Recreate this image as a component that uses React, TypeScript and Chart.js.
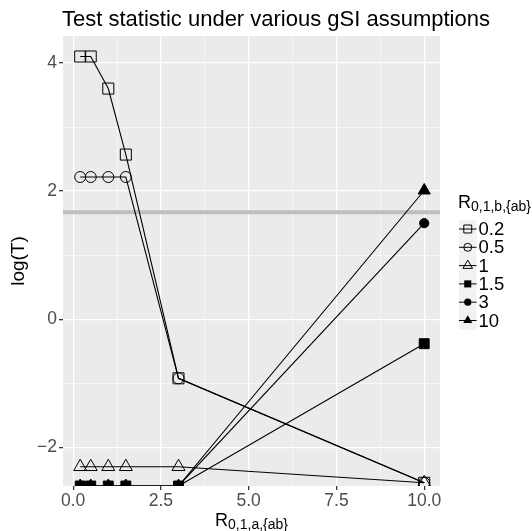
import React, { useEffect, useRef } from "react";
import { Chart, registerables } from "chart.js";

Chart.register(...registerables);

// ---- data ----
const xValues = [0.2, 0.5, 1, 1.5, 3, 10];
const seriesLabels = ["0.2", "0.5", "1", "1.5", "3", "10"];
const s02 = [4.1, 4.1, 3.6, 2.57, -0.92, -2.55];
const s05 = [2.22, 2.22, 2.22, 2.22, -0.92, -2.55];
const s1 = [-2.3, -2.3, -2.3, -2.3, -2.3, -2.55];
const s15 = [-2.6, -2.6, -2.6, -2.6, -2.6, -0.38];
const s3 = [-2.6, -2.6, -2.6, -2.6, -2.6, 1.5];
const s10 = [-2.6, -2.6, -2.6, -2.6, -2.6, 2.01];
const threshold = 1.67;
const xMajor = [0, 2.5, 5, 7.5, 10];
const xMinor = [1.25, 3.75, 6.25, 8.75];
const yMajor = [-2, 0, 2, 4];
const yMinor = [-1, 1, 3];
const xLimits = [-0.29, 10.45];
const yLimits = [-2.6, 4.42];

const FONT = "'Liberation Sans', Arial, Helvetica, sans-serif";

type Shape = "rect" | "circle" | "triangle";
const styles: { shape: Shape; filled: boolean; r: number; lr: number }[] = [
  { shape: "rect", filled: false, r: 7.8, lr: 5.6 },
  { shape: "circle", filled: false, r: 5.5, lr: 4 },
  { shape: "triangle", filled: false, r: 7.5, lr: 5.5 },
  { shape: "rect", filled: true, r: 7, lr: 5 },
  { shape: "circle", filled: true, r: 4.6, lr: 3.6 },
  { shape: "triangle", filled: true, r: 7, lr: 5.2 },
];
const seriesValues = [s02, s05, s1, s15, s3, s10];

function drawShape(ctx: CanvasRenderingContext2D, shape: Shape, filled: boolean, x: number, y: number, r: number) {
  ctx.beginPath();
  if (shape === "rect") {
    const s = r * Math.SQRT1_2;
    ctx.rect(x - s, y - s, 2 * s, 2 * s);
  } else if (shape === "circle") {
    ctx.arc(x, y, r, 0, Math.PI * 2);
  } else {
    ctx.moveTo(x, y - r);
    ctx.lineTo(x + r * Math.sin(Math.PI / 3), y + r / 2);
    ctx.lineTo(x - r * Math.sin(Math.PI / 3), y + r / 2);
    ctx.closePath();
  }
  if (filled) {
    ctx.fillStyle = "#000";
    ctx.fill();
  } else {
    ctx.strokeStyle = "#000";
    ctx.lineWidth = 1;
    ctx.stroke();
  }
}

function subText(ctx: CanvasRenderingContext2D, main: string, sub: string, x: number, y: number, size: number, subSize: number, align: "left" | "center") {
  ctx.font = `${size}px ${FONT}`;
  const w1 = ctx.measureText(main).width;
  ctx.font = `${subSize}px ${FONT}`;
  const w2 = ctx.measureText(sub).width;
  let x0 = x;
  if (align === "center") x0 = x - (w1 + w2) / 2;
  ctx.textAlign = "left";
  ctx.textBaseline = "alphabetic";
  ctx.fillStyle = "#000";
  ctx.font = `${size}px ${FONT}`;
  ctx.fillText(main, x0, y);
  ctx.font = `${subSize}px ${FONT}`;
  ctx.fillText(sub, x0 + w1, y + size * 0.22);
}

const decorPlugin = {
  id: "decor",
  beforeDraw(chart: any) {
    const { ctx, chartArea: a } = chart;
    ctx.save();
    ctx.fillStyle = "#EBEBEB";
    ctx.fillRect(a.left, a.top, a.right - a.left, a.bottom - a.top);
    ctx.restore();
  },
  beforeDatasetsDraw(chart: any) {
    const { ctx, chartArea: a } = chart;
    const y = chart.scales.y.getPixelForValue(threshold);
    ctx.save();
    ctx.strokeStyle = "#BEBEBE";
    ctx.lineWidth = 4;
    ctx.beginPath();
    ctx.moveTo(a.left, y);
    ctx.lineTo(a.right, y);
    ctx.stroke();
    ctx.restore();
  },
  afterDraw(chart: any) {
    const { ctx, chartArea: a } = chart;
    ctx.save();
    // title
    ctx.fillStyle = "#000";
    ctx.font = `22px ${FONT}`;
    ctx.textAlign = "left";
    ctx.textBaseline = "alphabetic";
    ctx.fillText("Test statistic under various gSI assumptions", a.left - 1, 26);
    // y title
    ctx.save();
    ctx.translate(24, (a.top + a.bottom) / 2);
    ctx.rotate(-Math.PI / 2);
    ctx.textAlign = "center";
    ctx.font = `19px ${FONT}`;
    ctx.fillText("log(T)", 0, 0);
    ctx.restore();
    // x title
    subText(ctx, "R", "0,1,a,{ab}", (a.left + a.right) / 2, 525.5, 18, 14, "center");
    // legend
    subText(ctx, "R", "0,1,b,{ab}", 458, 207.5, 18, 14, "left");
    const rowH = 18.3;
    const y0 = 229;
    const kx0 = 459;
    const kx1 = 476.5;
    ctx.fillStyle = "#F2F2F2";
    ctx.fillRect(kx0, y0 - rowH / 2, kx1 - kx0, rowH * seriesLabels.length);
    seriesLabels.forEach((lab, i) => {
      const cy = y0 + i * rowH;
      ctx.strokeStyle = "#000";
      ctx.lineWidth = 1;
      ctx.beginPath();
      ctx.moveTo(kx0, cy);
      ctx.lineTo(kx1, cy);
      ctx.stroke();
      const st = styles[i];
      drawShape(ctx, st.shape, st.filled, (kx0 + kx1) / 2, cy, st.lr);
      ctx.fillStyle = "#000";
      ctx.font = `18.5px ${FONT}`;
      ctx.textAlign = "left";
      ctx.textBaseline = "middle";
      ctx.fillText(lab, 478.5, cy + 1);
    });
    ctx.restore();
  },
};

export default function App() {
  const ref = useRef<HTMLCanvasElement | null>(null);
  useEffect(() => {
    if (!ref.current) return;
    const datasets = seriesValues.map((vals, i) => {
      const st = styles[i];
      return {
        label: seriesLabels[i],
        data: xValues.map((x, j) => ({ x, y: vals[j] })),
        borderColor: "#000",
        borderWidth: 1.1,
        pointStyle: st.shape,
        pointRadius: st.r,
        pointBorderWidth: 1,
        pointBorderColor: "#000",
        pointBackgroundColor: st.filled ? "#000" : "rgba(0,0,0,0)",
        backgroundColor: st.filled ? "#000" : "rgba(0,0,0,0)",
        fill: false,
        tension: 0,
        clip: 0,
      };
    });
    const majorSet = (arr: number[]) => (v: number) => arr.some((m) => Math.abs(m - v) < 1e-9);
    const isXMajor = majorSet(xMajor);
    const isYMajor = majorSet(yMajor);
    const chart = new Chart(ref.current, {
      type: "line",
      data: { datasets } as any,
      plugins: [decorPlugin],
      options: {
        animation: false,
        responsive: false,
        maintainAspectRatio: false,
        layout: { padding: { top: 36, right: 92, left: 0, bottom: 0 } },
        plugins: { legend: { display: false }, tooltip: { enabled: false }, title: { display: false } },
        scales: {
          x: {
            type: "linear",
            min: xLimits[0],
            max: xLimits[1],
            afterBuildTicks: (s: any) => {
              s.ticks = [...xMajor, ...xMinor].sort((p, q) => p - q).map((v) => ({ value: v }));
            },
            afterFit: (s: any) => {
              s.height = 45;
            },
            ticks: {
              autoSkip: false,
              maxRotation: 0,
              minRotation: 0,
              padding: 1,
              color: "#4D4D4D",
              font: { family: FONT, size: 17.5 },
              callback: (v: any) => (isXMajor(Number(v)) ? Number(v).toFixed(1) : ""),
            },
            grid: {
              color: "#FFFFFF",
              lineWidth: (c: any) => (isXMajor(c.tick?.value) ? 1.3 : 0.6),
              tickColor: (c: any) => (isXMajor(c.tick?.value) ? "#333333" : "rgba(0,0,0,0)"),
              tickLength: 4,
              drawTicks: true,
            },
            border: { display: false },
          },
          y: {
            type: "linear",
            min: yLimits[0],
            max: yLimits[1],
            afterBuildTicks: (s: any) => {
              s.ticks = [...yMajor, ...yMinor].sort((p, q) => p - q).map((v) => ({ value: v }));
            },
            afterFit: (s: any) => {
              s.width = 63;
            },
            ticks: {
              autoSkip: false,
              padding: 2,
              color: "#4D4D4D",
              font: { family: FONT, size: 17.5 },
              callback: (v: any) => {
                const n = Number(v);
                if (!isYMajor(n)) return "";
                return n < 0 ? "\u2212" + Math.abs(n) : String(n);
              },
            },
            grid: {
              color: "#FFFFFF",
              lineWidth: (c: any) => (isYMajor(c.tick?.value) ? 1.3 : 0.6),
              tickColor: (c: any) => (isYMajor(c.tick?.value) ? "#333333" : "rgba(0,0,0,0)"),
              tickLength: 4,
              drawTicks: true,
            },
            border: { display: false },
          },
        },
      } as any,
    });
    return () => chart.destroy();
  }, []);
  return (
    <div style={{ position: "fixed", left: 0, top: 0, width: 532, height: 531, background: "#fff" }}>
      <canvas ref={ref} width={532} height={531} style={{ display: "block", width: 532, height: 531 }} />
    </div>
  );
}
